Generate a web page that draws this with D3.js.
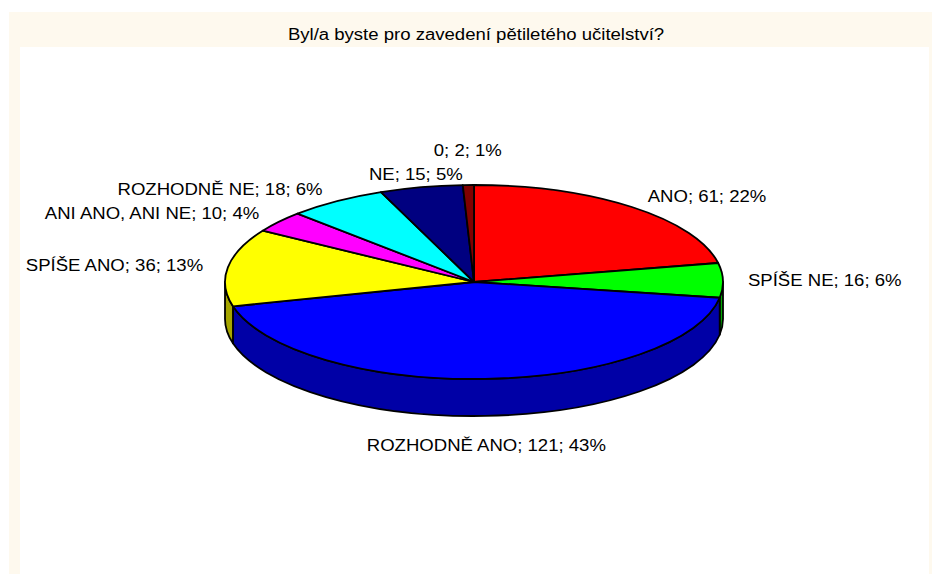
<!DOCTYPE html>
<html>
<head>
<meta charset="utf-8">
<script src="https://cdn.jsdelivr.net/npm/d3@7"></script>
<style>
  body { margin: 0; background: #fff; }
  text { font-family: "Liberation Sans", Arial, sans-serif; font-size: 16px; fill: #000; }
</style>
</head>
<body>
<div id="chart"></div>
<script>
// data (Excel 3D pie, clockwise from 12 o'clock)
const categories = ["ANO", "SPÍŠE NE", "ROZHODNĚ ANO", "SPÍŠE ANO", "ANI ANO, ANI NE", "ROZHODNĚ NE", "NE", "0"];
const counts = [61, 16, 121, 36, 10, 18, 15, 2];
const percents = [22, 6, 43, 13, 4, 6, 5, 1];
const title = "Byl/a byste pro zavedení pětiletého učitelství?";

var width = 932,
    height = 574;

// pie geometry
var cx = 474, cy = 282, rx = 249, ry = 97, depth = 37;
var stretch = 1.16; // the old excel text is a bit wide

var color = d3.scaleOrdinal()
  .domain(categories)
  .range(["#FF0000", "#00FF00", "#0000FF", "#FFFF00", "#FF00FF", "#00FFFF", "#000080", "#800000"]);

var svg = d3.select("#chart")
  .append("svg")
    .attr("width", width)
    .attr("height", height);

// frame: cream chart area, white plot area
svg.append("rect").attr("x", 9).attr("y", 12).attr("width", width - 9).attr("height", height - 12).attr("fill", "#FEF9EE");
svg.append("rect").attr("x", 20).attr("y", 47).attr("width", 909).attr("height", height - 47).attr("fill", "#FFFFFF");

svg.append("text")
  .attr("transform", "translate(476,40) scale(" + stretch + ",1)")
  .attr("text-anchor", "middle")
  .text(title);

var pie = d3.pie()
  .value(function(d) { return d.count; })
  .sort(null);

var data_ready = pie(categories.map(function(c, i) {
  return {cat: c, count: counts[i], pct: percents[i]};
}));

function px(a) { return cx + rx * Math.sin(a); }
function py(a, dy) { return cy - ry * Math.cos(a) + (dy || 0); }

// side walls (only the front half can be seen)
var sides = svg.append("g");
data_ready.forEach(function(d) {
  var s = Math.max(d.startAngle, Math.PI / 2),
      e = Math.min(d.endAngle, 3 * Math.PI / 2);
  if (s >= e) return;
  var p = "M" + px(s) + "," + py(s) +
    "A" + rx + "," + ry + " 0 0 1 " + px(e) + "," + py(e) +
    "L" + px(e) + "," + py(e, depth) +
    "A" + rx + "," + ry + " 0 0 0 " + px(s) + "," + py(s, depth) + "Z";
  sides.append("path")
    .attr("d", p)
    .attr("fill", d3.rgb(color(d.data.cat)).darker(1.2))
    .attr("stroke", "#000")
    .attr("stroke-width", 1.8)
    .attr("stroke-linejoin", "round");
});

// top faces
svg.append("g")
  .selectAll("path")
  .data(data_ready)
  .enter()
  .append("path")
    .attr("d", function(d) {
      var a0 = d.startAngle, a1 = d.endAngle;
      var large = (a1 - a0 > Math.PI) ? 1 : 0;
      return "M" + cx + "," + cy + "L" + px(a0) + "," + py(a0) +
        "A" + rx + "," + ry + " 0 " + large + " 1 " + px(a1) + "," + py(a1) + "Z";
    })
    .attr("fill", function(d) { return color(d.data.cat); })
    .attr("stroke", "#000")
    .attr("stroke-width", 1.8)
    .attr("stroke-linejoin", "round");

// data labels, placed outside the slice like excel does
var labelG = svg.append("g");
var boxH = 24;
var labels = data_ready.map(function(d) {
  var mid = (d.startAngle + d.endAngle) / 2,
      sn = Math.sin(mid), cs = Math.cos(mid);
  var x = cx + (rx + 25) * sn;
  var yc = cy - ry * cs - 14 * cs + (cs < 0 ? -cs * (depth + 15) : 0);
  var anchor = Math.abs(sn) < 0.35 ? "middle" : (sn > 0 ? "start" : "end");
  var t = labelG.append("text")
    .attr("text-anchor", anchor)
    .text(d.data.cat + "; " + d.data.count + "; " + d.data.pct + "%");
  var w = t.node().getComputedTextLength() * stretch;
  var x0 = anchor == "start" ? x : (anchor == "end" ? x - w : x - w / 2);
  return {t: t, x: x, yc: yc, x0: x0, x1: x0 + w, top: cs > 0};
});

// push overlapping labels in the top half upwards
var placed = [];
labels.slice().sort(function(a, b) { return b.yc - a.yc; }).forEach(function(l) {
  var moved = true;
  while (moved) {
    moved = false;
    placed.forEach(function(o) {
      if (l.top && l.x0 < o.x1 && o.x0 < l.x1 && Math.abs(l.yc - o.yc) < boxH - 0.5) {
        l.yc = o.yc - boxH;
        moved = true;
      }
    });
  }
  placed.push(l);
});

labels.forEach(function(l) {
  l.t.attr("transform", "translate(" + l.x + "," + (l.yc + 6) + ") scale(" + stretch + ",1)");
});
</script>
</body>
</html>
